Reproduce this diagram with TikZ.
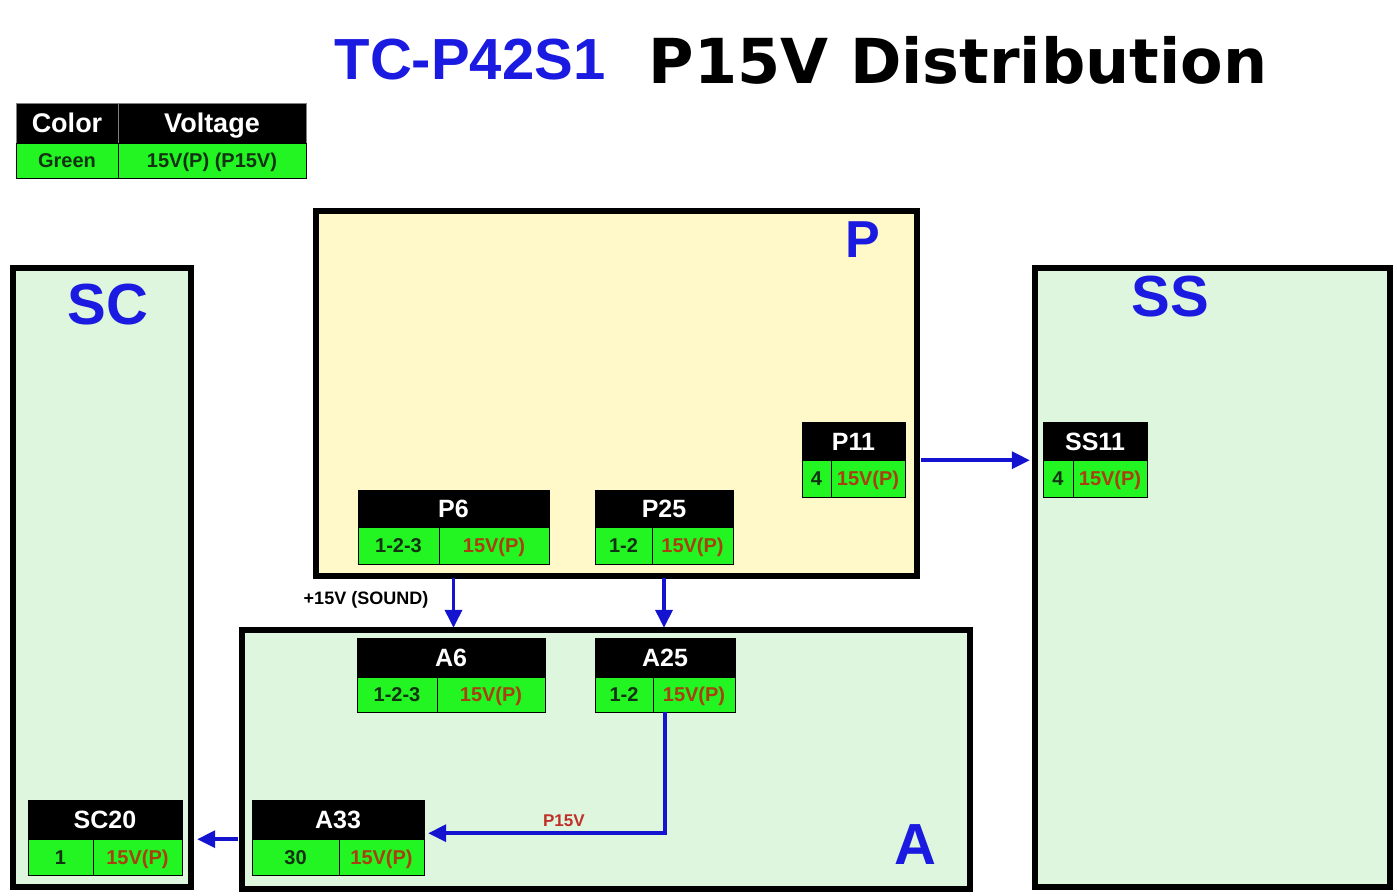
\documentclass[tikz,border=0pt]{standalone}
\usepackage{fontspec}
\setmainfont{Liberation Sans}
\newfontfamily\titlefont{DejaVu Sans}
\usepackage{tikz}
\usetikzlibrary{arrows.meta}
\usepackage{xcolor}
\definecolor{BoardBlue}{HTML}{1A1AE0}
\definecolor{WireBlue}{HTML}{1414D0}
\definecolor{CellGreen}{HTML}{22F522}
\definecolor{BoardGreen}{HTML}{DDF6DD}
\definecolor{BoardYellow}{HTML}{FFF8C8}
\definecolor{PinText}{HTML}{123212}
\definecolor{VoltText}{HTML}{A8400F}
\definecolor{LabelRed}{HTML}{C0302A}
\newcommand\fsz[1]{\fontsize{#1}{#1}\selectfont}

\begin{document}
\begin{tikzpicture}[x=1pt,y=-1pt,>={Triangle[length=18pt,width=17pt]},
  board/.style={draw=black,line width=6pt,fill=#1},
  boardname/.style={text=BoardBlue,font=\bfseries\fsz{58}},
  hdr/.style={draw=black,fill=black,text=white,font=\bfseries\fsz{25},inner sep=0pt,text height=18pt,text depth=0pt},
  cell/.style={draw=black,fill=CellGreen,line width=0.8pt,inner sep=0pt,font=\bfseries\fsz{20},text height=14.5pt,text depth=0pt},
  wire/.style={->,draw=WireBlue,line width=3.5pt}]
  \useasboundingbox (0,0) rectangle (1397,895);
  % title
  \node[text=BoardBlue,font=\bfseries\fsz{58}] (model) at (470,60) {TC-P42S1};
  \node[font=\titlefont\bfseries\fsz{62}] (title) at (958,60) {P15V Distribution};
  % key
  \node[hdr,draw=gray,font=\bfseries\fsz{27},text height=19.5pt,minimum width=102pt,minimum height=40pt] (key-color) at (67,123) {Color};
  \node[hdr,draw=gray,font=\bfseries\fsz{27},text height=19.5pt,minimum width=188pt,minimum height=40pt] (key-volt) at (212,123) {Voltage};
  \node[cell,text=PinText,minimum width=102pt,minimum height=35pt] (key-green) at (67,160.5) {Green};
  \node[cell,text=PinText,minimum width=188pt,minimum height=35pt] (key-value) at (212,160.5) {15V(P) (P15V)};
  % boards
  \draw[board=BoardYellow] (316,211) rectangle (917,576);
  \draw[board=BoardGreen] (13,268) rectangle (191,887);
  \draw[board=BoardGreen] (1035,268) rectangle (1390,887);
  \draw[board=BoardGreen] (242,630) rectangle (970,889);
  \node[boardname,font=\bfseries\fsz{52}] (p-name) at (863,240) {P};
  \node[boardname] (sc-name) at (108,305) {SC};
  \node[boardname] (ss-name) at (1170,297) {SS};
  \node[boardname] (a-name) at (915,845) {A};
  % connectors
  \foreach \n/\l/\s/\r/\t/\m/\b/\pin in {
    P6/358/439/549/490/527/564/1-2-3,
    P25/595/652/733/490/527/564/1-2,
    P11/802/831/905/422/460/497/4,
    SS11/1043/1073/1147/422/460/497/4,
    A6/357/437/545/638/677/712/1-2-3,
    A25/595/653/735/638/677/712/1-2,
    A33/252/339/424/800/839/875/30,
    SC20/28/93/182/800/839/875/1}{
    \node[hdr,minimum width={(\r-\l)*1pt},minimum height={(\m-\t)*1pt}] (\n) at ({(\l+\r)/2},{(\t+\m)/2}) {\n};
    \node[cell,text=PinText,minimum width={(\s-\l)*1pt},minimum height={(\b-\m)*1pt}] (\n-pin) at ({(\l+\s)/2},{(\m+\b)/2}) {\pin};
    \node[cell,text=VoltText,minimum width={(\r-\s)*1pt},minimum height={(\b-\m)*1pt}] (\n-v) at ({(\s+\r)/2},{(\m+\b)/2}) {15V(P)};
  }
  % wiring
  \draw[wire,shorten <=16pt,shorten >=13pt] (P11.south east) -- (SS11.south west);
  \draw[wire,shorten <=14pt,shorten >=10pt] (P6.south |- P6-v.south) -- (P6.south |- A6.north);
  \draw[wire,shorten <=14pt,shorten >=10pt] (P25.south |- P25-v.south) -- (P25.south |- A25.north);
  \node[font=\bfseries\fsz{18}] (sound) at (366,600) {+15V (SOUND)};
  \draw[wire,shorten >=4pt] (A25.south |- A25-v.south) |- node[pos=0.71,above=1pt,text=LabelRed,font=\bfseries\fsz{17}] (p15v) {P15V} ([yshift=6pt]A33.south east);
  \draw[wire,shorten <=14pt,shorten >=15pt] (A33.south west) -- (SC20.south east);
\end{tikzpicture}
\end{document}
